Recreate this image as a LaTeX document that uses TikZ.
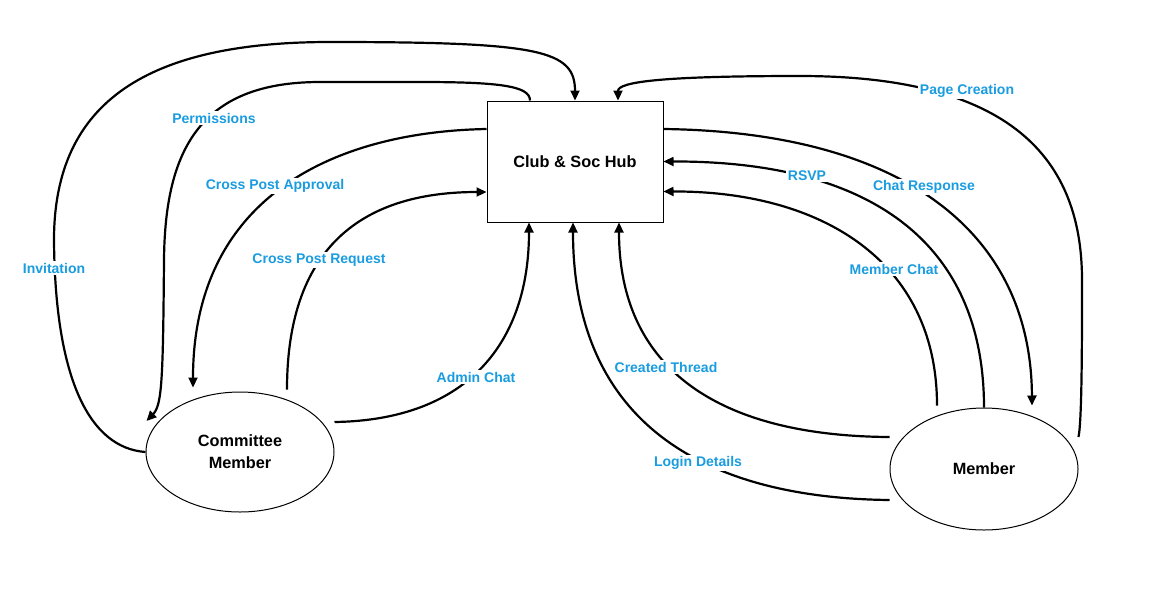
\documentclass[tikz,border=0pt]{standalone}
\usepackage{fontspec}
\setmainfont{Liberation Sans}
\usetikzlibrary{arrows.meta,shapes.geometric}
\definecolor{lblue}{RGB}{26,156,224}
\begin{document}
\begin{tikzpicture}[x=1pt,y=-1pt,
  flow/.style={line width=2.2pt,-{Triangle[length=10pt,width=9pt]}},
  lbl/.style={fill=white,text=lblue,font=\bfseries\fontsize{14}{16}\selectfont,inner sep=1.5pt},
  hubbox/.style={draw,line width=1pt,fill=white,minimum width=176pt,minimum height=121pt,inner sep=0pt,font=\bfseries\fontsize{16.3}{22}\selectfont},
  ent/.style={draw,ellipse,line width=1pt,fill=white,inner sep=0pt,align=center,font=\bfseries\fontsize{16.3}{22}\selectfont}]
\useasboundingbox (0,0) rectangle (1159,595);

\node[hubbox] (hub) at (575,161.5) {Club \& Soc Hub};
\node[ent,minimum width=188pt,minimum height=120pt] (cm) at (240,452) {Committee\\Member};
\node[ent,minimum width=188pt,minimum height=122pt] (mem) at (984,469) {Member};

% Invitation
\draw[flow] (cm.west) .. controls (90,448) and (55,380) .. (54,240)
  .. controls (54,100) and (150,42) .. (330,42) .. controls (540,42) and (575,50) .. (hub.north);
% Permissions
\coordinate (permend) at ([xshift=1pt,yshift=31pt]cm.west);
\draw[flow] ([xshift=-45pt]hub.north) .. controls (530,86) and (500,82) .. (420,82) -- (320,82)
  .. controls (200,82) and (165,150) .. (164,260) .. controls (163,380) and (162,405) .. (permend);
% Cross Post Approval
\draw[flow] ([yshift=32.5pt]hub.west) .. controls (330,132) and (193,200) .. ([xshift=-47pt,yshift=4pt]cm.north);
% Cross Post Request
\draw[flow] ([xshift=47pt,yshift=2pt]cm.north) .. controls (287,240) and (370,192) .. ([yshift=-30.5pt]hub.west);
% Admin Chat
\draw[flow] ([yshift=30pt]cm.east) .. controls (470,420) and (529,340) .. ([xshift=-46pt]hub.south);
% Login Details
\draw[flow] ([yshift=-31pt]mem.west) .. controls (700,498) and (573,420) .. ([xshift=-2pt]hub.south);
% Created Thread
\draw[flow] ([yshift=32pt]mem.west) .. controls (720,436) and (619,370) .. ([xshift=44pt]hub.south);
% Member Chat
\draw[flow] ([xshift=-47pt,yshift=2pt]mem.north) .. controls (937,260) and (820,191) .. ([yshift=-30pt]hub.east);
% RSVP
\draw[flow] (mem.north) .. controls (984,250) and (880,161) .. (hub.east);
% Chat Response
\draw[flow] ([yshift=32.5pt]hub.east) .. controls (900,132) and (1031,230) .. ([xshift=48pt,yshift=2pt]mem.north);
% Page Creation
\draw[flow] ([yshift=32pt]mem.east) .. controls (1082,420) and (1082,340) .. (1082,280)
  .. controls (1082,150) and (1000,76) .. (800,76) .. controls (660,76) and (618,82) .. ([xshift=43pt]hub.north);

\node[lbl] (l1) at (54,268) {Invitation};
\node[lbl] (l2) at (214,118) {Permissions};
\node[lbl] (l3) at (275,186) {Cross Post Approval};
\node[lbl] (l4) at (319,260) {Cross Post Request};
\node[lbl] (l5) at (476,377) {Admin Chat};
\node[lbl] (l6) at (698,463) {Login Details};
\node[lbl] (l7) at (666,367) {Created Thread};
\node[lbl] (l8) at (894,269) {Member Chat};
\node[lbl] (l9) at (807,176) {RSVP};
\node[lbl] (l10) at (924,187) {Chat Response};
\node[lbl] (l11) at (967,91) {Page Creation};
\end{tikzpicture}
\end{document}
